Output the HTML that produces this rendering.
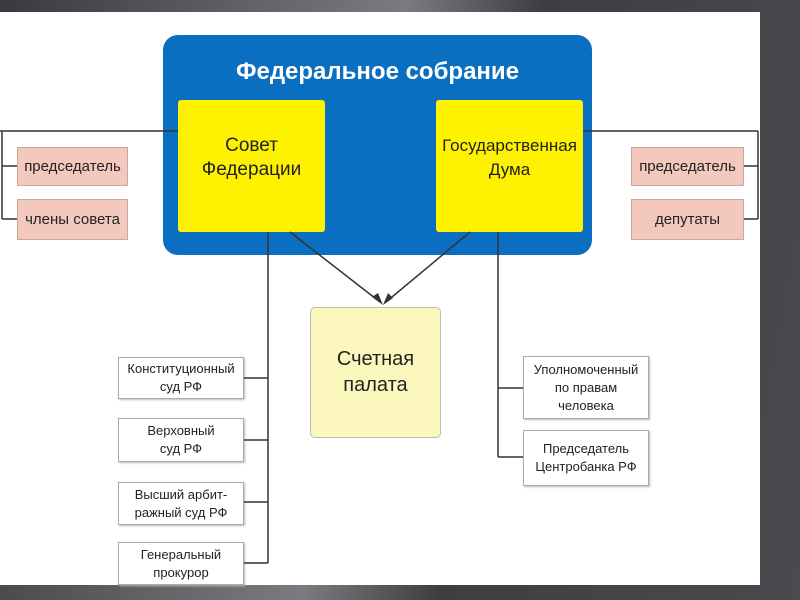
<!DOCTYPE html>
<html><head><meta charset="utf-8"><style>
body{margin:0;width:800px;height:600px;overflow:hidden;background:linear-gradient(100deg,#3a3a3e 0%,#7a7a80 45%,#3e3e42 60%,#4a4a4f 100%);font-family:"Liberation Sans",sans-serif;}
.w{position:absolute;left:0;top:12px;width:760px;height:573px;background:#fff;}
.b{position:absolute;box-sizing:border-box;display:flex;align-items:center;justify-content:center;text-align:center;color:#222;}
.pk{background:#f4c9bd;border:1px solid #c9a79d;font-size:15px;}
.wt{background:#fff;border:1px solid #aaa;font-size:13px;line-height:18px;box-shadow:1px 1px 2px #bbb;}
</style></head><body>
<div class="w"></div>
<div class="b" style="left:163px;top:35px;width:429px;height:220px;background:#0a6fc0;border-radius:15px;"></div>
<div class="b" style="left:163px;top:55px;width:429px;height:34px;color:#fff;font-weight:bold;font-size:24px;">Федеральное собрание</div>
<div class="b" style="left:178px;top:100px;width:147px;height:132px;background:#fff200;border-radius:3px;font-size:19px;line-height:24px;align-items:flex-start;padding-top:34px;">Совет<br>Федерации</div>
<div class="b" style="left:436px;top:100px;width:147px;height:132px;background:#fff200;border-radius:3px;font-size:17px;line-height:24px;align-items:flex-start;padding-top:34px;">Государственная<br>Дума</div>
<div class="b pk" style="left:17px;top:147px;width:111px;height:39px;">председатель</div>
<div class="b pk" style="left:17px;top:199px;width:111px;height:41px;">члены совета</div>
<div class="b pk" style="left:631px;top:147px;width:113px;height:39px;">председатель</div>
<div class="b pk" style="left:631px;top:199px;width:113px;height:41px;">депутаты</div>
<div class="b" style="left:310px;top:307px;width:131px;height:131px;background:#fbf7bd;border:1px solid #bbb;border-radius:5px;font-size:20px;line-height:26px;align-items:flex-start;padding-top:38px;">Счетная<br>палата</div>
<div class="b wt" style="left:118px;top:357px;width:126px;height:42px;">Конституционный<br>суд РФ</div>
<div class="b wt" style="left:118px;top:418px;width:126px;height:44px;">Верховный<br>суд РФ</div>
<div class="b wt" style="left:118px;top:482px;width:126px;height:43px;">Высший арбит-<br>ражный суд РФ</div>
<div class="b wt" style="left:118px;top:542px;width:126px;height:43px;">Генеральный<br>прокурор</div>
<div class="b wt" style="left:523px;top:356px;width:126px;height:63px;">Уполномоченный<br>по правам<br>человека</div>
<div class="b wt" style="left:523px;top:430px;width:126px;height:56px;">Председатель<br>Центробанка РФ</div>
<svg style="position:absolute;left:0;top:0" width="800" height="600">
<g stroke="#333" stroke-width="1.5" fill="none">
<path d="M0 131H178M2 131V219M2 166H17M2 219H17"/>
<path d="M583 131H758M758 131V219M744 166H758M744 219H758"/>
<path d="M268 232V563M244 378H268M244 440H268M244 502H268M244 563H268"/>
<path d="M498 232V457M498 388H523M498 457H523"/>
<path d="M290 232L380 302M470 232L386 302"/>
</g>
<path d="M383 305L372 297L378 293Z M383 305L388 293L393 298Z" fill="#333"/>
</svg>
</body></html>
